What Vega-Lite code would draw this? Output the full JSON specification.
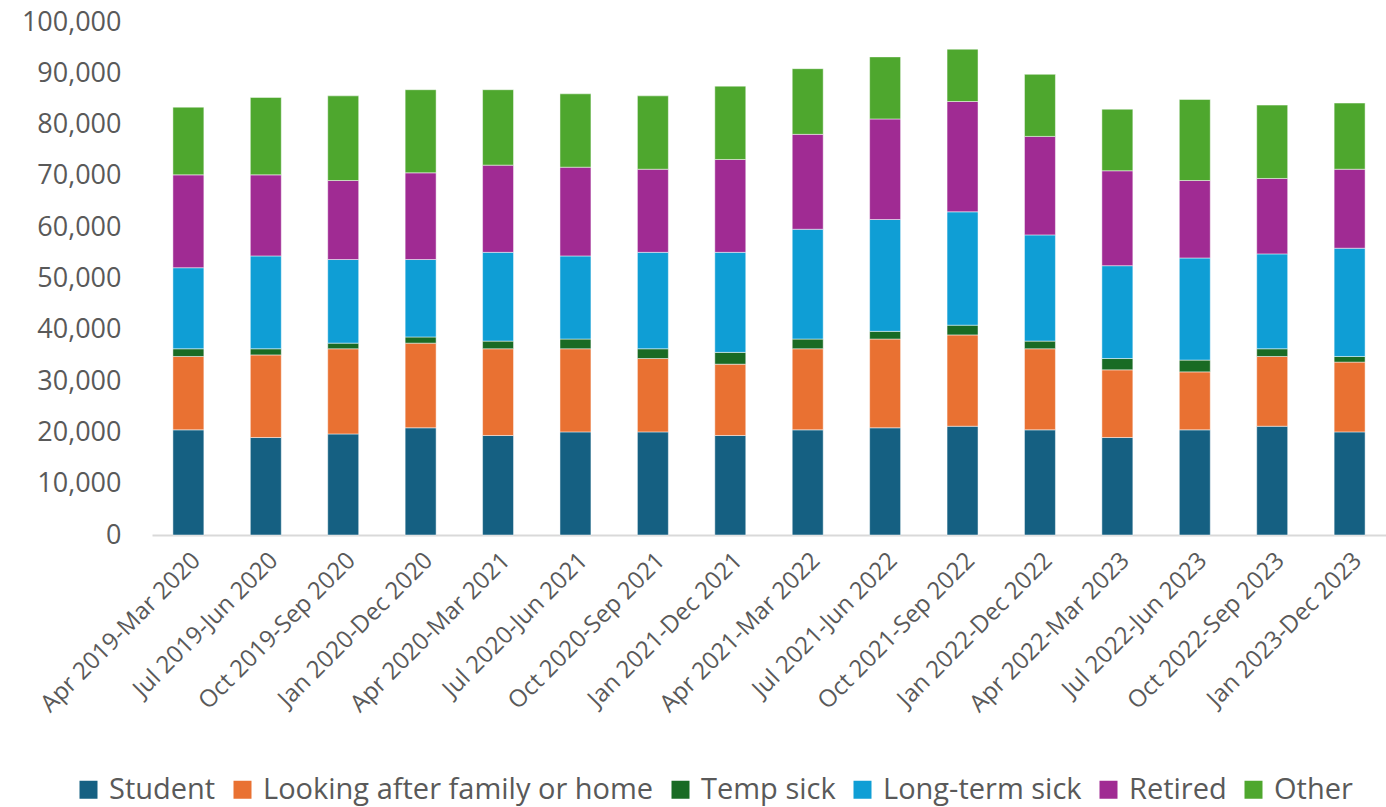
{
  "$schema": "https://vega.github.io/schema/vega-lite/v6.json",
  "width": 1234,
  "height": 513,
  "autosize": {"type": "none"},
  "padding": {"left": 152, "top": 22, "right": 0, "bottom": 272},
  "background": "#ffffff",
  "config": {"view": {"stroke": null}, "font": "Open Sans"},
  "datasets": {
    "cats": [
      {"category": "Student", "k": 1},
      {"category": "Looking after family or home", "k": 2},
      {"category": "Temp sick", "k": 3},
      {"category": "Long-term sick", "k": 4},
      {"category": "Retired", "k": 5},
      {"category": "Other", "k": 6}
    ]
  },
  "data": {"values": [
    {"p": "Apr 2019-Mar 2020", "Student": 20500, "Looking after family or home": 14300, "Temp sick": 1500, "Long-term sick": 15800, "Retired": 18100, "Other": 13200},
    {"p": "Jul 2019-Jun 2020", "Student": 19000, "Looking after family or home": 16100, "Temp sick": 1200, "Long-term sick": 18100, "Retired": 15800, "Other": 15100},
    {"p": "Oct 2019-Sep 2020", "Student": 19700, "Looking after family or home": 16600, "Temp sick": 1100, "Long-term sick": 16300, "Retired": 15400, "Other": 16500},
    {"p": "Jan 2020-Dec 2020", "Student": 20900, "Looking after family or home": 16500, "Temp sick": 1200, "Long-term sick": 15100, "Retired": 16900, "Other": 16200},
    {"p": "Apr 2020-Mar 2021", "Student": 19400, "Looking after family or home": 16900, "Temp sick": 1500, "Long-term sick": 17300, "Retired": 17000, "Other": 14700},
    {"p": "Jul 2020-Jun 2021", "Student": 20100, "Looking after family or home": 16200, "Temp sick": 1900, "Long-term sick": 16200, "Retired": 17300, "Other": 14300},
    {"p": "Oct 2020-Sep 2021", "Student": 20100, "Looking after family or home": 14300, "Temp sick": 1900, "Long-term sick": 18800, "Retired": 16200, "Other": 14300},
    {"p": "Jan 2021-Dec 2021", "Student": 19400, "Looking after family or home": 13900, "Temp sick": 2300, "Long-term sick": 19500, "Retired": 18100, "Other": 14300},
    {"p": "Apr 2021-Mar 2022", "Student": 20500, "Looking after family or home": 15800, "Temp sick": 1900, "Long-term sick": 21400, "Retired": 18500, "Other": 12800},
    {"p": "Jul 2021-Jun 2022", "Student": 20900, "Looking after family or home": 17300, "Temp sick": 1500, "Long-term sick": 21800, "Retired": 19600, "Other": 12100},
    {"p": "Oct 2021-Sep 2022", "Student": 21200, "Looking after family or home": 17800, "Temp sick": 1900, "Long-term sick": 22100, "Retired": 21500, "Other": 10200},
    {"p": "Jan 2022-Dec 2022", "Student": 20500, "Looking after family or home": 15800, "Temp sick": 1500, "Long-term sick": 20700, "Retired": 19200, "Other": 12100},
    {"p": "Apr 2022-Mar 2023", "Student": 19000, "Looking after family or home": 13200, "Temp sick": 2200, "Long-term sick": 18100, "Retired": 18500, "Other": 12000},
    {"p": "Jul 2022-Jun 2023", "Student": 20500, "Looking after family or home": 11300, "Temp sick": 2300, "Long-term sick": 19900, "Retired": 15100, "Other": 15800},
    {"p": "Oct 2022-Sep 2023", "Student": 21200, "Looking after family or home": 13600, "Temp sick": 1500, "Long-term sick": 18500, "Retired": 14700, "Other": 14300},
    {"p": "Jan 2023-Dec 2023", "Student": 20100, "Looking after family or home": 13600, "Temp sick": 1100, "Long-term sick": 21100, "Retired": 15400, "Other": 12900}
  ]},
  "transform": [
    {"fold": ["Student", "Looking after family or home", "Temp sick", "Long-term sick", "Retired", "Other"], "as": ["category", "value"]},
    {"lookup": "category", "from": {"data": {"name": "cats"}, "key": "category", "fields": ["k"]}}
  ],
  "mark": {"type": "bar", "stroke": "#ffffff", "strokeWidth": 0.8, "strokeOpacity": 0.6},
  "encoding": {
    "x": {
      "field": "p", "type": "nominal", "sort": null,
      "scale": {"paddingInner": 0.6, "paddingOuter": 0.27},
      "axis": {
        "title": null, "labelAngle": -45, "labelFontSize": 24, "labelColor": "#595959",
        "ticks": false, "labelPadding": 13, "domainColor": "#d9d9d9", "domainWidth": 2,
        "labelFont": "Open Sans", "labelLimit": 400
      }
    },
    "y": {
      "field": "value", "type": "quantitative", "stack": "zero",
      "scale": {"domain": [0, 100000]},
      "axis": {
        "title": null, "tickCount": 10, "format": ",d", "grid": false, "domain": false,
        "ticks": false, "labelFontSize": 27, "labelColor": "#595959", "labelPadding": 31,
        "labelFont": "Open Sans"
      }
    },
    "order": {"field": "k", "type": "quantitative", "sort": "ascending"},
    "color": {
      "field": "category", "type": "nominal",
      "scale": {
        "domain": ["Student", "Looking after family or home", "Temp sick", "Long-term sick", "Retired", "Other"],
        "range": ["#156082", "#E97132", "#196B24", "#0F9ED5", "#A02B93", "#4EA72E"]
      },
      "legend": {
        "title": null, "orient": "none", "direction": "horizontal",
        "legendX": -78, "legendY": 753,
        "symbolType": "square", "symbolSize": 324, "symbolStrokeWidth": 0,
        "labelFontSize": 29, "labelColor": "#595959", "labelFont": "Open Sans",
        "columnPadding": 12, "labelOffset": 6, "labelLimit": 500
      }
    }
  }
}
